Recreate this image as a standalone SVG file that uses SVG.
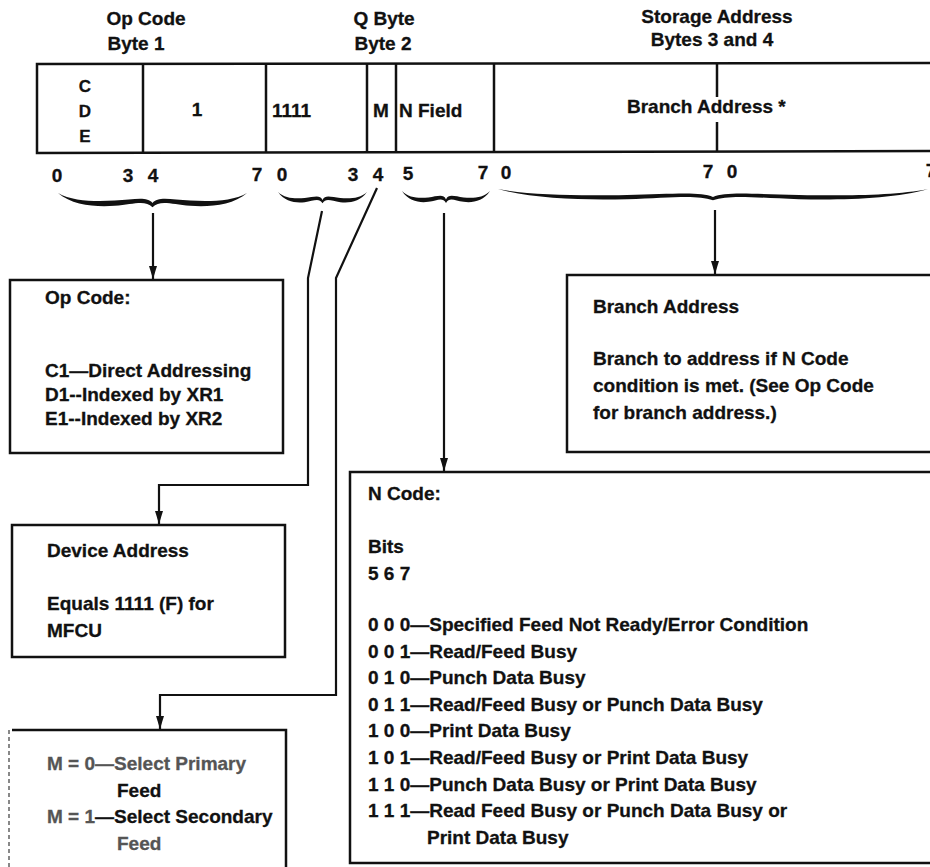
<svg xmlns="http://www.w3.org/2000/svg" xmlns:xlink="http://www.w3.org/1999/xlink" width="930" height="867" viewBox="0 0 930 867">
<style>
text { font-family: "Liberation Sans", Arial, sans-serif; font-weight: bold; font-size: 19px; fill: #111; stroke: #111; stroke-width: 0.3; }
.mid { text-anchor: middle; }
.box { fill: none; stroke: #111; stroke-width: 2.5; }
.conn { fill: none; stroke: #111; stroke-width: 2.2; }
.faded { fill: #555; stroke: #555; }
</style>
<defs>
<marker id="ah" viewBox="0 0 13 8" refX="13" refY="4" markerWidth="13" markerHeight="8" markerUnits="userSpaceOnUse" orient="auto">
<path d="M0,0 L13,4 L0,8 Z" fill="#111"/>
</marker>
<path id="brace" d="M0,0 C15,13 40,15 60,13.5 C80,12 92,7 100,15 C108,7 120,12 140,13.5 C160,15 185,13 200,0 C185,9 160,9 140,8 C120,7 106,3 100,10.5 C94,3 80,7 60,8 C40,9 15,9 0,0 Z" fill="#111"/>
</defs>

<g id="titles">
<text class="mid" x="146" y="25">Op Code</text>
<text class="mid" x="136" y="50">Byte 1</text>
<text class="mid" x="384" y="25">Q Byte</text>
<text class="mid" x="383" y="50">Byte 2</text>
<text class="mid" x="717" y="23">Storage Address</text>
<text class="mid" x="712" y="46">Bytes 3 and 4</text>
</g>

<g id="register">
<path class="box" d="M940,63 L37,64 L37,153 L940,151"/>
<line class="box" x1="143" y1="64" x2="143" y2="153"/>
<line class="box" x1="266" y1="64" x2="266" y2="152"/>
<line class="box" x1="367" y1="63" x2="367" y2="152"/>
<line class="box" x1="396" y1="63" x2="396" y2="152"/>
<line class="box" x1="494" y1="63" x2="494" y2="152"/>
<line class="box" x1="717" y1="63" x2="717" y2="97"/>
<line class="box" x1="717" y1="122" x2="717" y2="151"/>
<text class="mid" x="85" y="92" style="font-size:17px">C</text>
<text class="mid" x="85" y="117" style="font-size:17px">D</text>
<text class="mid" x="85" y="142" style="font-size:17px">E</text>
<text class="mid" x="197" y="116">1</text>
<text x="272" y="117">1111</text>
<text x="373" y="117">M</text>
<text x="399" y="117">N Field</text>
<text x="627" y="113">Branch Address *</text>
</g>

<g id="bits">
<text class="mid" x="57" y="182">0</text>
<text class="mid" x="128" y="182">3</text>
<text class="mid" x="153" y="182">4</text>
<text class="mid" x="257" y="181">7</text>
<text class="mid" x="282" y="181">0</text>
<text class="mid" x="353" y="181">3</text>
<text class="mid" x="378" y="181">4</text>
<text class="mid" x="408" y="180">5</text>
<text class="mid" x="483" y="179">7</text>
<text class="mid" x="506" y="179">0</text>
<text class="mid" x="708" y="178">7</text>
<text class="mid" x="732" y="178">0</text>
<text class="mid" x="931" y="177">7</text>
</g>

<g id="braces">
<use xlink:href="#brace" transform="translate(58,193) scale(0.945,0.95)"/>
<use xlink:href="#brace" transform="translate(278,192) scale(0.445,0.75)"/>
<use xlink:href="#brace" transform="translate(402,191) scale(0.44,0.8)"/>
<use xlink:href="#brace" transform="translate(498,189) scale(2.15,0.75)"/>
</g>

<g id="connectors">
<path class="conn" d="M153,213 L153,279" marker-end="url(#ah)"/>
<path class="conn" d="M322,211 L308,278 L308,485 L159,485 L159,524" marker-end="url(#ah)"/>
<path class="conn" d="M377,188 L336,278 L336,695 L160,695 L160,729" marker-end="url(#ah)"/>
<path class="conn" d="M444,213 L444,471" marker-end="url(#ah)"/>
<path class="conn" d="M715,210 L715,274" marker-end="url(#ah)"/>
</g>

<g id="opcode-box">
<rect class="box" x="10" y="280" width="273" height="173"/>
<text x="45" y="304">Op Code:</text>
<text x="45" y="377">C1—Direct Addressing</text>
<text x="45" y="401">D1--Indexed by XR1</text>
<text x="45" y="425">E1--Indexed by XR2</text>
</g>

<g id="device-box">
<rect class="box" x="12" y="525" width="273" height="132"/>
<text x="47" y="557">Device Address</text>
<text x="47" y="610">Equals 1111 (F) for</text>
<text x="47" y="637">MFCU</text>
</g>

<g id="m-box">
<path class="box" d="M12,730 L286,730 L286,870"/>
<line x1="9" y1="730" x2="9" y2="867" stroke="#888" stroke-width="2" stroke-dasharray="4 3"/>
<text x="47" y="770"><tspan class="faded">M = 0—Select Primary</tspan></text>
<text x="117" y="797">Feed</text>
<text x="47" y="823"><tspan class="faded">M = 1</tspan>—Select Secondary</text>
<text x="117" y="850" class="faded">Feed</text>
</g>

<g id="branch-box">
<path class="box" d="M940,275 L567,275 L567,452 L940,452"/>
<text x="593" y="313">Branch Address</text>
<text x="593" y="365">Branch to address if N Code</text>
<text x="593" y="392">condition is met.  (See Op Code</text>
<text x="593" y="419">for branch address.)</text>
</g>

<g id="ncode-box">
<path class="box" d="M940,472 L350,472 L350,863 L940,863"/>
<text x="368" y="500">N Code:</text>
<text x="368" y="553">Bits</text>
<text x="368" y="580">5 6 7</text>
<text x="368" y="631">0 0 0—Specified Feed Not Ready/Error Condition</text>
<text x="368" y="658">0 0 1—Read/Feed Busy</text>
<text x="368" y="684">0 1 0—Punch Data Busy</text>
<text x="368" y="711">0 1 1—Read/Feed Busy or Punch Data Busy</text>
<text x="368" y="737">1 0 0—Print Data Busy</text>
<text x="368" y="764">1 0 1—Read/Feed Busy or Print Data Busy</text>
<text x="368" y="791">1 1 0—Punch Data Busy or Print Data Busy</text>
<text x="368" y="817">1 1 1—Read Feed Busy or Punch Data Busy or</text>
<text x="427" y="844">Print Data Busy</text>
</g>
</svg>
